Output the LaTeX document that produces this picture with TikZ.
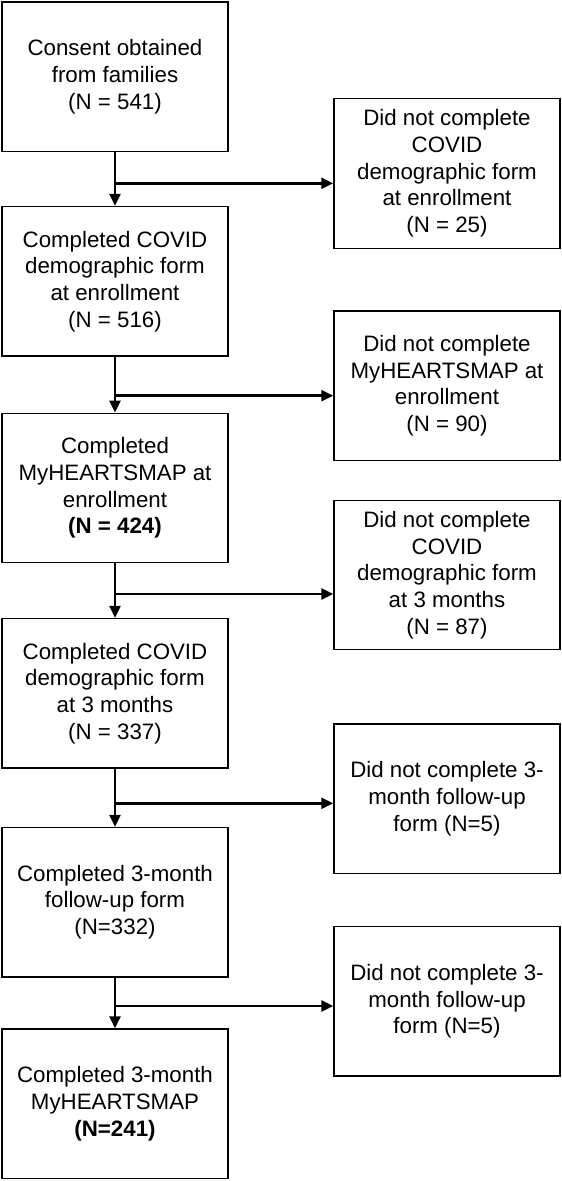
\documentclass[tikz,border=0pt]{standalone}
\usepackage{fontspec}
\setmainfont{Liberation Sans}
\usetikzlibrary{arrows.meta}
\usetikzlibrary{positioning}

\begin{document}
\begin{tikzpicture}[x=1pt, y=1pt, font=\fontsize{22.3}{26.7}\selectfont]
	\useasboundingbox (0,0) rectangle (562,-1181);
	\begin{scope}[every node/.style={rectangle, draw, line width=1.4pt, align=center,
	              minimum width=226pt, minimum height=149.5pt, inner sep=0pt}]
		% main stream
		\node (n1) at (115,-76.7)  {Consent obtained\\from families\\(N = 541)};
		\node (n2) at (115,-281.3) {Completed COVID\\demographic form\\at enrollment\\(N = 516)};
		\node (n3) at (115,-488)   {Completed\\MyHEARTSMAP at\\enrollment\\\textbf{(N = 424)}};
		\node (n4) at (115,-693.3) {Completed COVID\\demographic form\\at 3 months\\(N = 337)};
		\node (n5) at (115,-902.2) {Completed 3-month\\follow-up form\\(N=332)};
		\node (n6) at (115,-1103.8) {Completed 3-month\\MyHEARTSMAP\\\textbf{(N=241)}};
		% drop-outs
		\node (d1) at (447,-173.5) {Did not complete\\COVID\\demographic form\\at enrollment\\(N = 25)};
		\node (d2) at (447,-385.8) {Did not complete\\MyHEARTSMAP at\\enrollment\\(N = 90)};
		\node (d3) at (447,-575)   {Did not complete\\COVID\\demographic form\\at 3 months\\(N = 87)};
		\node (d4) at (447,-798.7) {Did not complete 3-\\month follow-up\\form (N=5)};
		\node (d5) at (447,-1001.3) {Did not complete 3-\\month follow-up\\form (N=5)};
	\end{scope}

	\coordinate (j1) at (115,-183.3);
	\coordinate (j2) at (115,-395.7);
	\coordinate (j3) at (115,-594);
	\coordinate (j4) at (115,-803.3);
	\coordinate (j5) at (115,-1006);

	\begin{scope}[>={Triangle[length=12pt, width=11pt]},
	              every edge/.style={draw=black, line width=2.5pt, ->}]
		\path (n1) edge (n2);
		\path (n2) edge (n3);
		\path (n3) edge (n4);
		\path (n4) edge (n5);
		\path (n5) edge (n6);
		\path (j1) edge (j1 -| d1.west);
		\path (j2) edge (j2 -| d2.west);
		\path (j3) edge (j3 -| d3.west);
		\path (j4) edge (j4 -| d4.west);
		\path (j5) edge (j5 -| d5.west);
	\end{scope}
\end{tikzpicture}
\end{document}
